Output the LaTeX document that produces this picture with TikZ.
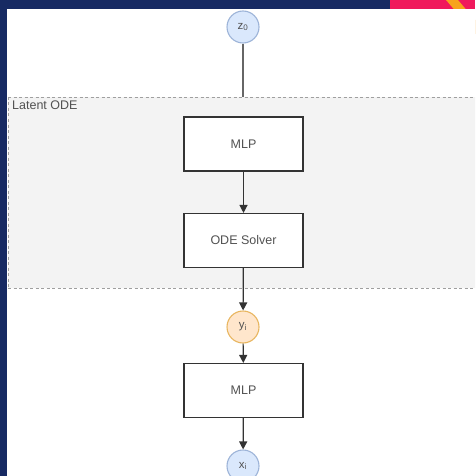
\documentclass[tikz,border=0pt]{standalone}
\usepackage{fontspec}
\setmainfont{Liberation Sans}
\usetikzlibrary{arrows.meta}
\definecolor{navy}{HTML}{172A63}
\definecolor{hotpink}{HTML}{F0195C}
\definecolor{amber}{HTML}{F7A31C}
\definecolor{panel}{HTML}{F3F3F3}
\definecolor{ink}{HTML}{333333}
\definecolor{bluefill}{HTML}{DAE8FC}
\definecolor{blueline}{HTML}{9DB4D8}
\definecolor{orangefill}{HTML}{FFE6CC}
\definecolor{orangeline}{HTML}{E8B660}
\tikzset{
  x=1pt, y=-1pt,
  block/.style={draw=ink, line width=1.1pt, fill=white, minimum width=119pt, minimum height=54pt, font=\fontsize{12.5}{14}\selectfont, text=ink!85, inner sep=0pt},
  var/.style={circle, line width=1.1pt, minimum size=32pt, inner sep=0pt, font=\fontsize{11.5}{12}\selectfont, text=ink!85},
  latent/.style={var, draw=blueline, fill=bluefill},
  hidden/.style={var, draw=orangeline, fill=orangefill},
  flow/.style={draw=ink, line width=1.2pt, -{Triangle[length=8pt,width=8pt]}},
  plain/.style={draw=ink!75, line width=1.2pt},
  frame/.style={draw=gray!75, line width=0.9pt, dash pattern=on 3pt off 2.5pt}
}
\begin{document}
\begin{tikzpicture}
\useasboundingbox (0,0) rectangle (475,476);
\begin{scope}
\clip (0,0) rectangle (475,476);
% page background and corner decoration
\fill[white] (0,0) rectangle (475,476);
\fill[navy] (0,0) rectangle (475,9);
\fill[navy] (0,0) rectangle (7,476);
\fill[hotpink] (390,0) rectangle (475,9);
\fill[amber] (446,0) -- (458,0) -- (475,20) -- (475,34) -- cycle;
\fill[white] (7,9) rectangle (475,476);
% latent ODE panel
\fill[panel] (8,97) rectangle (476,288);
\draw[frame] (8,97) -- (476,97);
\draw[frame] (8,288) -- (476,288);
\draw[frame] (8,97) -- (8,288);
\node[anchor=north west, inner sep=0pt, font=\fontsize{12.5}{14}\selectfont, text=ink!85] (lbl) at (12,101) {Latent ODE};
\coordinate (entry) at (243,97);
% nodes
\node[latent] (z0) at (243,27) {z\textsubscript{0}};
\node[block] (mlpa) at (243.5,144) {MLP};
\node[block] (ode) at (243.5,240.5) {ODE Solver};
\node[hidden] (yi) at (243,327) {y\textsubscript{i}};
\node[block] (mlpb) at (243.5,390.5) {MLP};
\node[latent] (xi) at (243,466) {x\textsubscript{i}};
% connectors
\draw[plain] (z0) -- (entry);
\draw[flow] (mlpa) -- (ode);
\draw[flow] (ode) -- (yi);
\draw[flow] (yi) -- (mlpb);
\draw[flow] (mlpb) -- (xi);
\end{scope}
\end{tikzpicture}
\end{document}
